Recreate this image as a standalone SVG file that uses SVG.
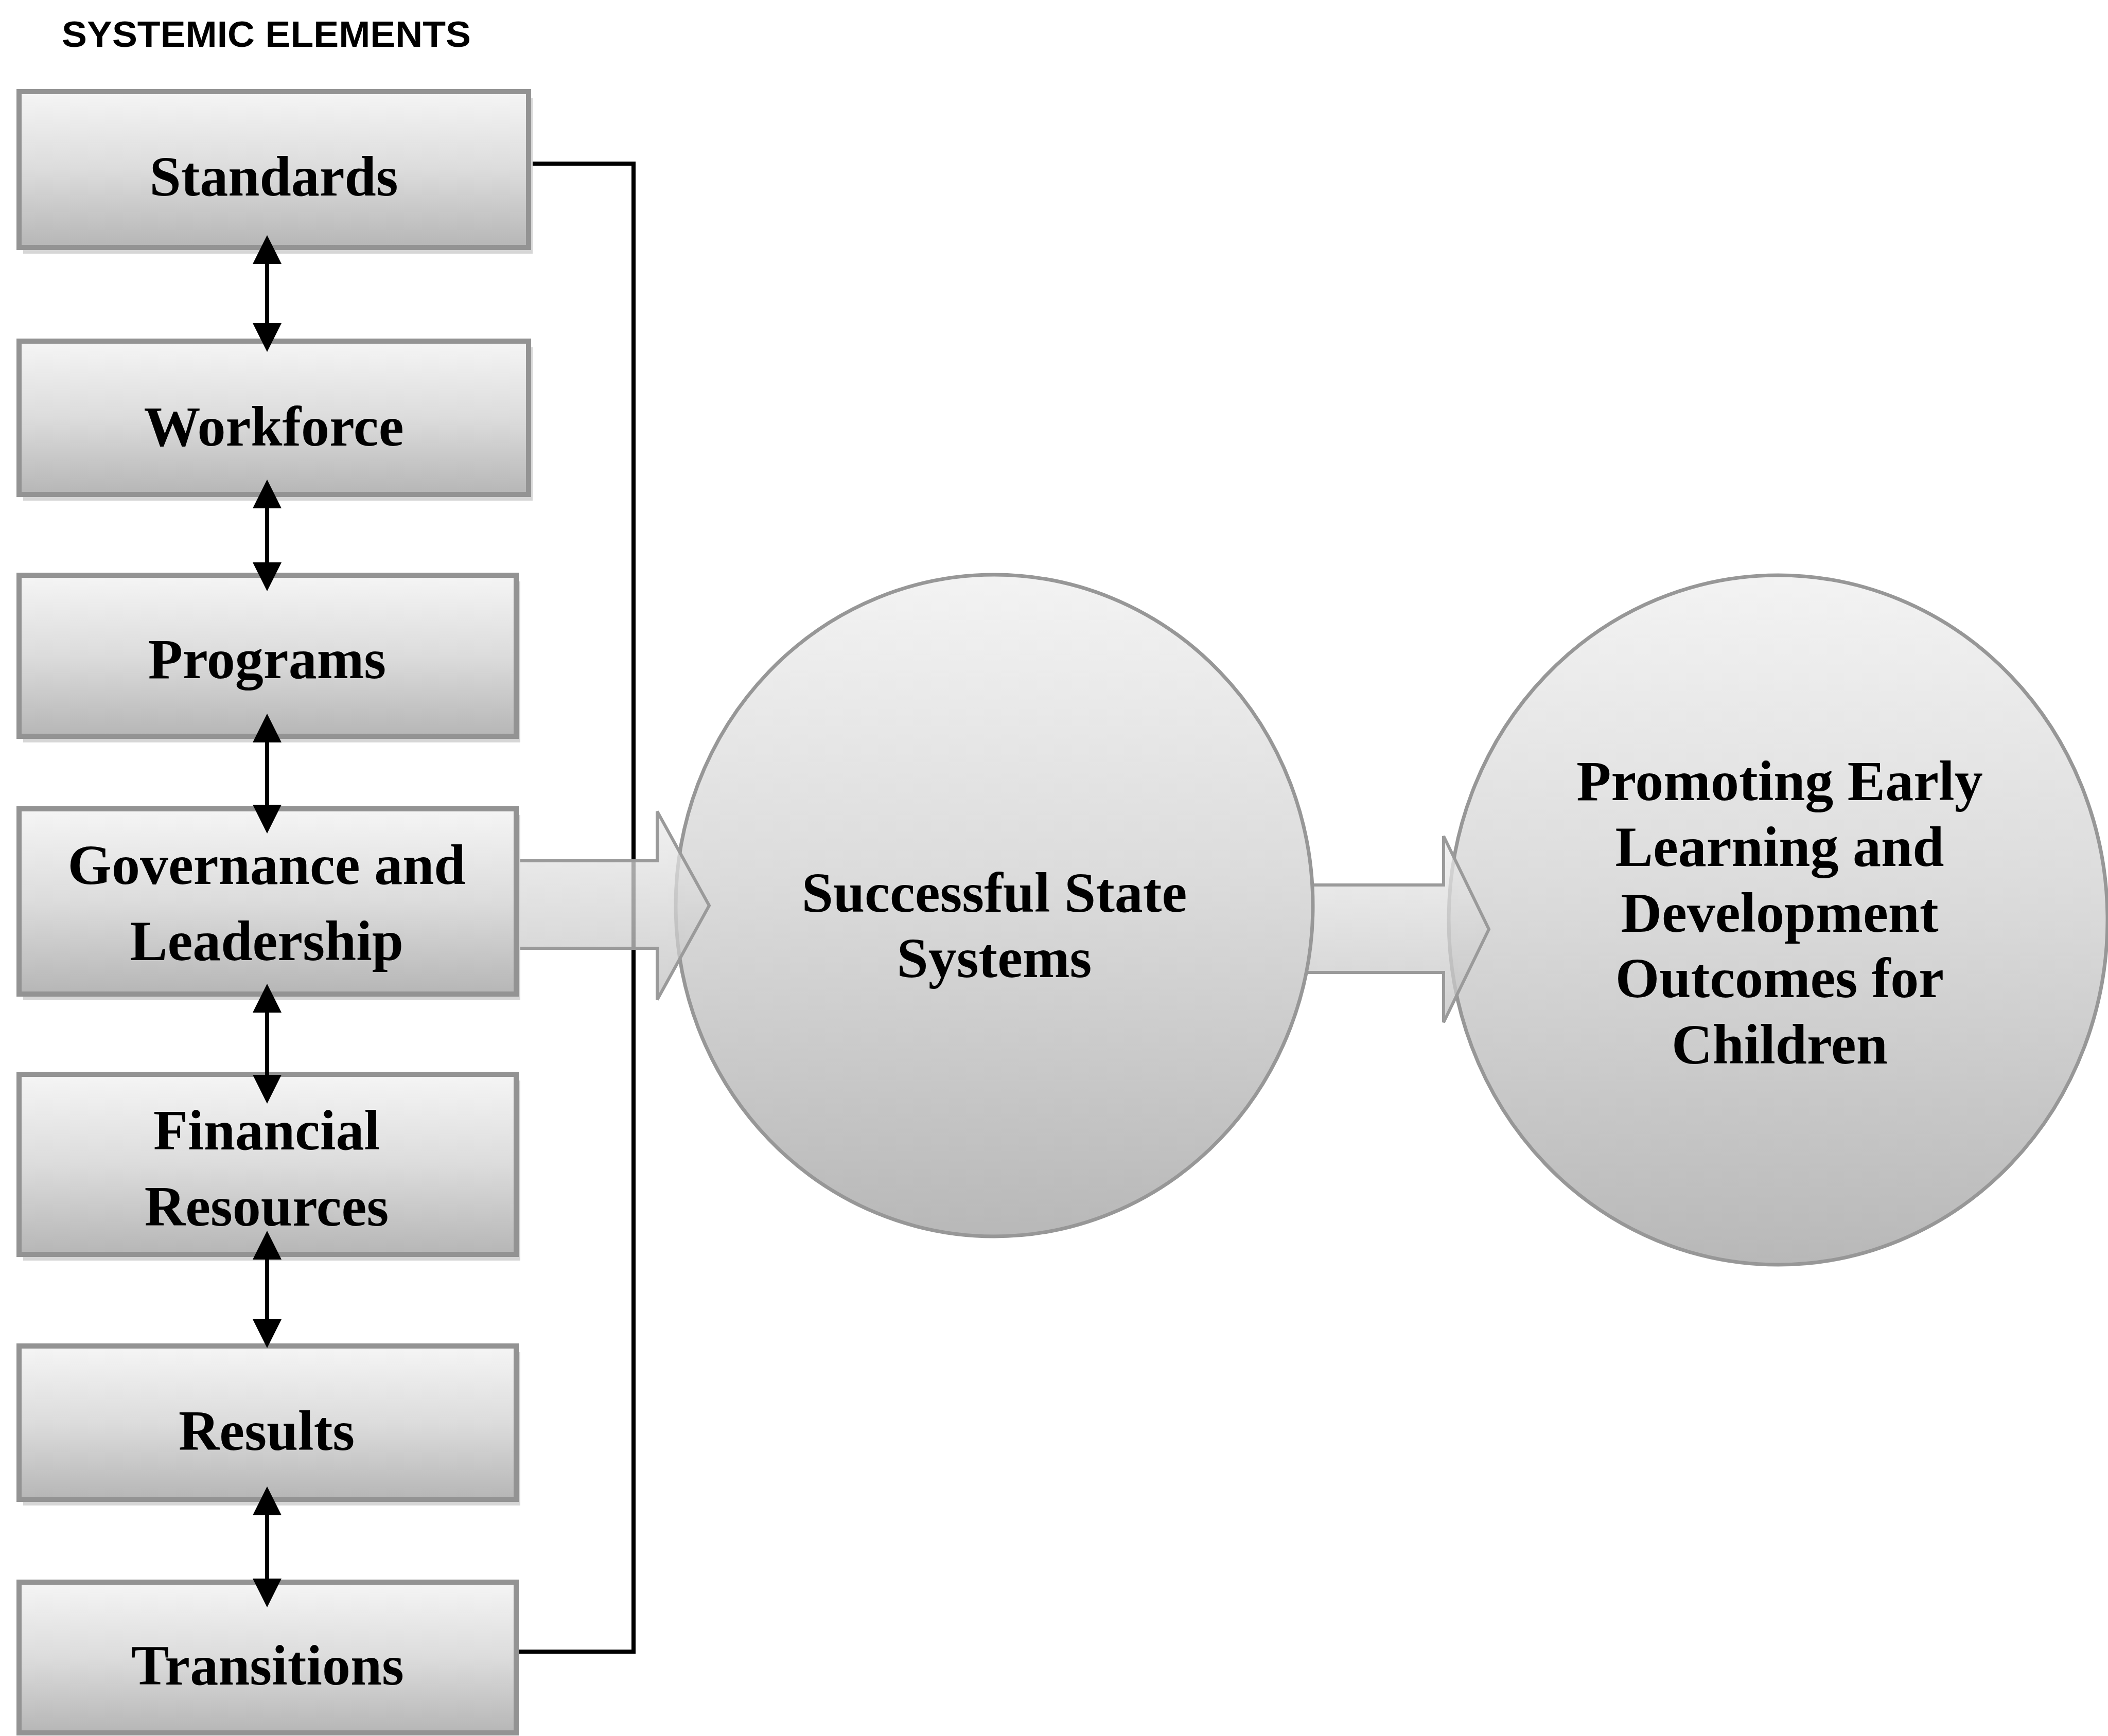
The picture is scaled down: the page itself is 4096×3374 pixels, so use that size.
<svg xmlns="http://www.w3.org/2000/svg" width="4096" height="3374" viewBox="0 0 4096 3374">
<defs>
<linearGradient id="gBox" x1="0" y1="0" x2="0" y2="1">
<stop offset="0" stop-color="#f5f5f5"/>
<stop offset="0.5" stop-color="#dcdcdc"/>
<stop offset="1" stop-color="#b6b6b6"/>
</linearGradient>
<linearGradient id="gCirc" x1="0" y1="0" x2="0" y2="1">
<stop offset="0" stop-color="#f3f3f3"/>
<stop offset="0.45" stop-color="#dcdcdc"/>
<stop offset="1" stop-color="#b8b8b8"/>
</linearGradient>
<linearGradient id="gArrow" x1="0" y1="0" x2="0" y2="1">
<stop offset="0" stop-color="#ededed"/>
<stop offset="1" stop-color="#c0c0c0"/>
</linearGradient>
<marker id="ah" viewBox="0 0 7 7" refX="5.5" refY="3.5" markerWidth="7" markerHeight="7" markerUnits="strokeWidth" orient="auto-start-reverse">
<path d="M0,0 L7,3.5 L0,7 z" fill="#000"/>
</marker>
<style>
.box{fill:url(#gBox);stroke:#939393;stroke-width:10}
.shadow{fill:#d6d6d6}
.circ{fill:url(#gCirc);stroke:#979797;stroke-width:7}
.barrow{fill:url(#gArrow);fill-opacity:0.75;stroke:#9a9a9a;stroke-width:6;stroke-linejoin:miter}
.lbl{font-family:"Liberation Serif","Times New Roman",serif;font-weight:bold;font-size:110px;fill:#000;text-anchor:middle}
.title{font-family:"Liberation Sans",Arial,sans-serif;font-weight:bold;font-size:70px;fill:#000}
.conn{fill:none;stroke:#000;stroke-width:8}
.dbl{fill:none;stroke:#000;stroke-width:8;marker-start:url(#ah);marker-end:url(#ah)}
</style>
</defs>
<rect x="0" y="0" width="4096" height="3374" fill="#ffffff"/>
<text class="title" x="120" y="91" textLength="795" lengthAdjust="spacingAndGlyphs">SYSTEMIC ELEMENTS</text>

<g id="connectors">
<path class="conn" d="M1027,318 H1231 V3210 H1003"/>
</g>

<g id="circle-outcomes">
<ellipse class="circ" cx="3455" cy="1788" rx="640" ry="670"/>
<text class="lbl" x="3458" y="1555">Promoting Early</text>
<text class="lbl" x="3458" y="1683">Learning and</text>
<text class="lbl" x="3458" y="1811">Development</text>
<text class="lbl" x="3458" y="1938">Outcomes for</text>
<text class="lbl" x="3458" y="2067">Children</text>
</g>

<g id="arrow-systems-outcomes">
<polygon class="barrow" points="2530,1720 2805,1720 2805,1625 2893,1806 2805,1987 2805,1890 2530,1890"/>
</g>

<g id="circle-systems">
<ellipse class="circ" cx="1932" cy="1760" rx="619" ry="643"/>
<text class="lbl" x="1932" y="1772">Successful State</text>
<text class="lbl" x="1932" y="1899">Systems</text>
</g>

<g id="arrow-elements-systems">
<polygon class="barrow" points="1003,1673 1277,1673 1277,1577 1378,1760 1277,1943 1277,1843 1003,1843"/>
</g>

<g id="node-standards">
<rect class="shadow" x="45" y="190" width="990" height="303"/>
<rect class="box" x="37" y="178" width="990" height="303"/>
<text class="lbl" x="532" y="380">Standards</text>
</g>
<g id="node-workforce">
<rect class="shadow" x="45" y="675" width="990" height="298"/>
<rect class="box" x="37" y="663" width="990" height="298"/>
<text class="lbl" x="532" y="866">Workforce</text>
</g>
<g id="node-programs">
<rect class="shadow" x="45" y="1130" width="966" height="313"/>
<rect class="box" x="37" y="1118" width="966" height="313"/>
<text class="lbl" x="519" y="1318">Programs</text>
</g>
<g id="node-governance">
<rect class="shadow" x="45" y="1584" width="966" height="360"/>
<rect class="box" x="37" y="1572" width="966" height="360"/>
<text class="lbl" x="518" y="1718">Governance and</text>
<text class="lbl" x="518" y="1866">Leadership</text>
</g>
<g id="node-financial">
<rect class="shadow" x="45" y="2100" width="966" height="350"/>
<rect class="box" x="37" y="2088" width="966" height="350"/>
<text class="lbl" x="518" y="2234">Financial</text>
<text class="lbl" x="518" y="2382">Resources</text>
</g>
<g id="node-results">
<rect class="shadow" x="45" y="2628" width="966" height="298"/>
<rect class="box" x="37" y="2616" width="966" height="298"/>
<text class="lbl" x="518" y="2818">Results</text>
</g>
<g id="node-transitions">
<rect class="box" x="37" y="3075" width="966" height="293"/>
<text class="lbl" x="520" y="3274">Transitions</text>
</g>

<g id="element-links">
<line class="dbl" x1="519" y1="469" x2="519" y2="672"/>
<line class="dbl" x1="519" y1="944" x2="519" y2="1137"/>
<line class="dbl" x1="519" y1="1399" x2="519" y2="1608"/>
<line class="dbl" x1="519" y1="1924" x2="519" y2="2133"/>
<line class="dbl" x1="519" y1="2404" x2="519" y2="2608"/>
<line class="dbl" x1="519" y1="2901" x2="519" y2="3112"/>
</g>
</svg>
